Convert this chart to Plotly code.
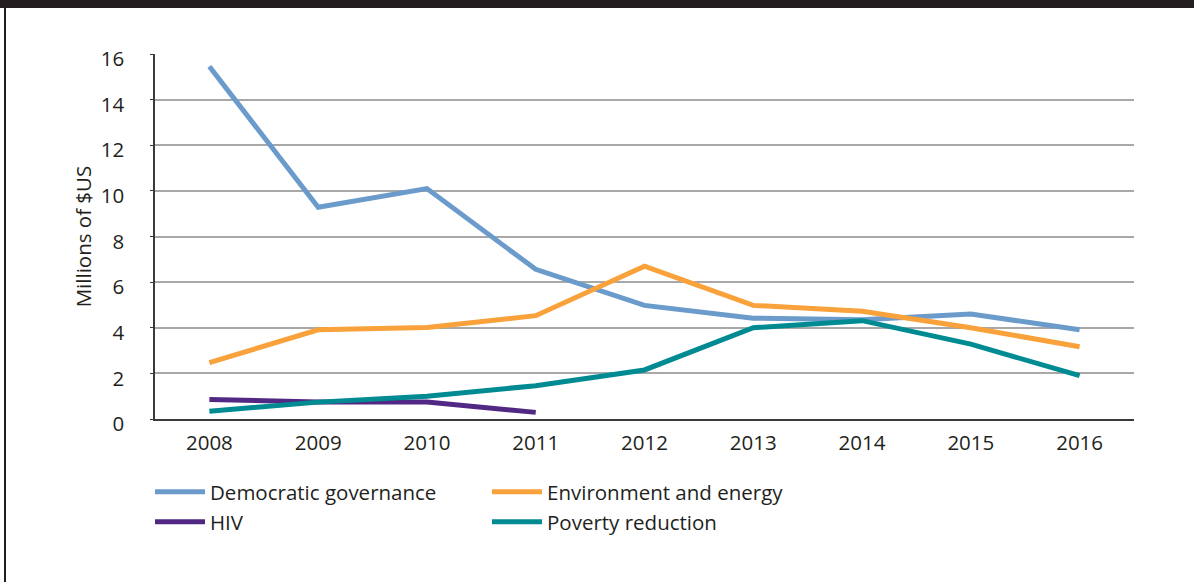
import plotly.graph_objects as go

years = ["2008", "2009", "2010", "2011", "2012", "2013", "2014", "2015", "2016"]
democratic = [15.45, 9.28, 10.1, 6.56, 4.98, 4.42, 4.35, 4.6, 3.91]
environment = [2.47, 3.91, 4.01, 4.53, 6.7, 4.98, 4.72, 4.0, 3.17]
hiv = [0.86, 0.74, 0.74, 0.29, None, None, None, None, None]
poverty = [0.34, 0.74, 1.0, 1.46, 2.15, 4.0, 4.31, 3.28, 1.9]
y_ticks = [0, 2, 4, 6, 8, 10, 12, 14, 16]

TXT = "#231F20"
FONT = "Open Sans"
FS = 20.5

fig = go.Figure()
series = [
    ("Democratic governance", democratic, "#6A9BCB", "legend"),
    ("Environment and energy", environment, "#F9A13A", "legend"),
    ("HIV", hiv, "#512884", "legend2"),
    ("Poverty reduction", poverty, "#008B93", "legend2"),
]
for name, vals, col, lg in series:
    fig.add_trace(go.Scatter(
        x=years, y=vals, name=name, mode="lines",
        line=dict(color=col, width=5), legend=lg,
        connectgaps=False,
    ))

legend_common = dict(
    orientation="h", xref="container", yref="container",
    xanchor="left", yanchor="top",
    font=dict(family=FONT, size=FS, color=TXT),
    entrywidth=272, entrywidthmode="pixels",
    bgcolor="rgba(0,0,0,0)", borderwidth=0,
    itemwidth=50, tracegroupgap=0,
)

fig.update_layout(
    width=1194, height=582,
    margin=dict(l=155, r=60, t=54, b=163),
    paper_bgcolor="white", plot_bgcolor="white",
    font=dict(family=FONT, size=FS, color=TXT),
    showlegend=True,
    legend=dict(**legend_common, x=150/1194, y=1 - 472/582),
    legend2=dict(**legend_common, x=150/1194, y=1 - 502/582),
    xaxis=dict(
        type="category", range=[-0.5, 8.5],
        showgrid=False, zeroline=False,
        showline=True, linecolor="#3A3A3A", linewidth=2,
        ticks="", ticklabelstandoff=4,
        tickfont=dict(family=FONT, size=FS, color=TXT),
    ),
    yaxis=dict(
        range=[0, 16], tickvals=y_ticks,
        showgrid=True, gridcolor="#A8A8A8", gridwidth=1.6,
        zeroline=False,
        showline=True, linecolor="#3A3A3A", linewidth=1.5,
        ticks="outside", ticklen=3, tickcolor="#3A3A3A", tickwidth=1,
        ticklabelstandoff=22, ticklabelshift=5,
        tickfont=dict(family=FONT, size=FS, color=TXT),
        title=dict(text="Millions of $US", standoff=4,
                   font=dict(family=FONT, size=FS, color=TXT)),
    ),
    shapes=[
        dict(type="rect", xref="paper", yref="paper",
             x0=-1, x1=2, y0=1 + 46/364.7, y1=1 + 60/364.7,
             fillcolor="#231F20", line=dict(width=0), layer="above"),
        dict(type="line", xref="paper", yref="paper",
             x0=-(150/979), x1=-(150/979), y0=-(170/364.7), y1=1 + 47/364.7,
             line=dict(color="#231F20", width=2)),
    ],
)

fig.write_html("out.html")
